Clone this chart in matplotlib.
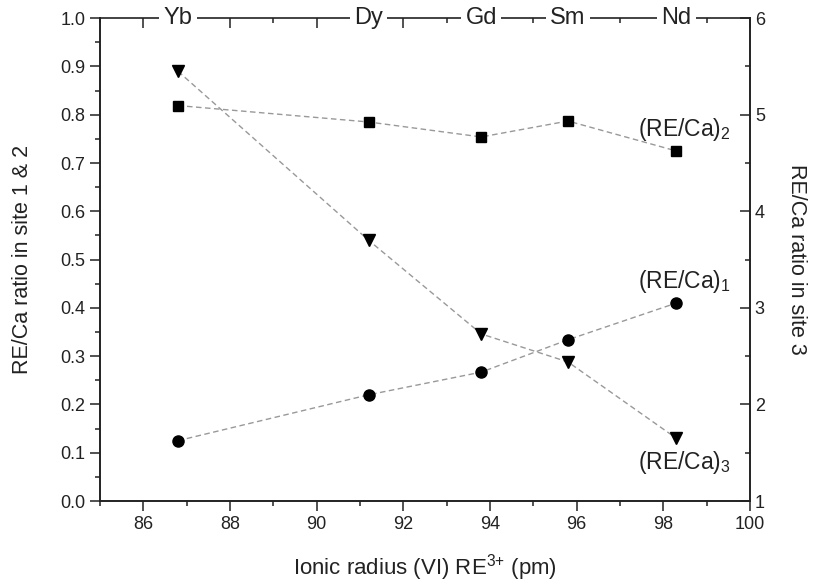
import matplotlib
matplotlib.use('Agg')
import matplotlib.pyplot as plt
from matplotlib.ticker import MultipleLocator

plt.rcParams['font.family'] = ['Liberation Sans', 'DejaVu Sans']
plt.rcParams['mathtext.fontset'] = 'custom'
plt.rcParams['mathtext.rm'] = 'Liberation Sans'
plt.rcParams['mathtext.it'] = 'Liberation Sans:italic'

# ionic radius (VI) of the rare earths, pm
elements = ['Yb', 'Dy', 'Gd', 'Sm', 'Nd']
radius = [86.8, 91.2, 93.8, 95.8, 98.3]

# RE/Ca ratios
site1 = [0.125, 0.220, 0.267, 0.334, 0.410]
site2 = [0.819, 0.785, 0.754, 0.787, 0.725]
site3 = [5.45, 3.70, 2.73, 2.44, 1.65]

fig = plt.figure(figsize=(8.15, 5.86), dpi=100)
ax = fig.add_axes([0.1227, 0.145, 0.7975, 0.824])
ax2 = ax.twinx()

line_kw = dict(color='#999999', linestyle=(0, (4, 2.5)), linewidth=1.0,
               markerfacecolor='black', markeredgecolor='black')
ax.plot(radius, site2, marker='s', markersize=7, **line_kw)
ax.plot(radius, site1, marker='o', markersize=8, **line_kw)
ax2.plot(radius, site3, marker='v', markersize=9, **line_kw)

ax.set_xlim(85, 100)
ax.set_ylim(0, 1.0)
ax2.set_ylim(1, 6)

ax.xaxis.set_major_locator(MultipleLocator(2))
ax.xaxis.set_minor_locator(MultipleLocator(1))
ax.yaxis.set_major_locator(MultipleLocator(0.1))
ax.yaxis.set_minor_locator(MultipleLocator(0.05))
ax2.yaxis.set_major_locator(MultipleLocator(1))
ax2.yaxis.set_minor_locator(MultipleLocator(0.5))
ax.yaxis.set_major_formatter(plt.FormatStrFormatter('%.1f'))

ax.tick_params(axis='x', which='both', bottom=True, top=False, direction='out',
               labelsize=13, colors='#222222')
ax.tick_params(axis='y', which='both', left=True, right=False, direction='out',
               labelsize=13, colors='#222222')
ax2.tick_params(axis='y', which='both', direction='in', labelsize=13,
                colors='#222222')
for a in (ax, ax2):
    a.tick_params(which='major', length=7, width=1.1)
    a.tick_params(which='minor', length=3.5, width=1.1)
    for s in a.spines.values():
        s.set_linewidth(1.2)
        s.set_color('#222222')

# top ticks pointing inward, drawn from a secondary x axis
top = ax.secondary_xaxis('top')
top.xaxis.set_major_locator(MultipleLocator(2))
top.xaxis.set_minor_locator(MultipleLocator(1))
top.tick_params(which='both', direction='in', labeltop=False, width=1.1,
                colors='#222222')
top.tick_params(which='major', length=7)
top.tick_params(which='minor', length=3.5)
top.spines['top'].set_visible(False)
ax.spines['top'].set_visible(False)

# element names sit on the top spine
for el, r in zip(elements, radius):
    ax2.text(r, 1.0, el, transform=ax2.get_xaxis_transform(), ha='center',
             va='center', fontsize=17, color='#222222', zorder=10, clip_on=False,
             bbox=dict(facecolor='white', edgecolor='none', pad=3))

ax.set_xlabel('Ionic radius (VI) RE$^{3{+}}$ (pm)', fontsize=16, labelpad=14,
              color='#222222')
ax.set_ylabel('RE/Ca ratio in site 1 & 2', fontsize=15.5, labelpad=20,
              color='#222222')
ax2.set_ylabel('RE/Ca ratio in site 3', fontsize=15.5, rotation=270,
               labelpad=30, color='#222222')

ax.text(99.55, 0.769, '(RE/Ca)$_2$', ha='right', va='center',
        fontsize=16.5, color='#222222')
ax.text(99.55, 0.454, '(RE/Ca)$_1$', ha='right', va='center',
        fontsize=16.5, color='#222222')
ax.text(99.55, 0.079, '(RE/Ca)$_3$', ha='right', va='center',
        fontsize=16.5, color='#222222')

fig.savefig('out.png', dpi=100)
